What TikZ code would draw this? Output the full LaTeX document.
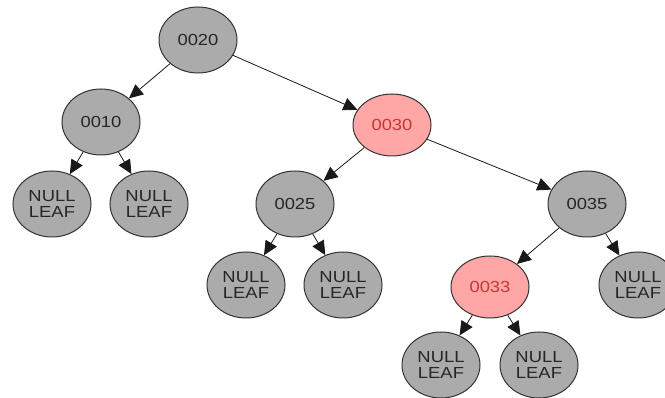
\documentclass[tikz,border=0pt]{standalone}
\usepackage{fontspec}
\setmainfont{Liberation Sans}[FakeStretch=1.15]
\usetikzlibrary{shapes.geometric,arrows.meta}
\definecolor{nodegray}{HTML}{ABABAB}
\definecolor{nodepink}{HTML}{FFA6A6}
\definecolor{pinktext}{HTML}{C83838}
\definecolor{edgegray}{HTML}{333333}
\tikzset{
  treenode/.style={ellipse, draw=edgegray, line width=1pt, fill=nodegray,
    minimum width=78pt, minimum height=66pt, inner sep=0pt,
    font=\fontsize{16}{16.5}\selectfont, text=black!85, align=center},
  rednode/.style={treenode, fill=nodepink, text=pinktext, minimum height=62pt},
  edge/.style={draw=black!90, line width=0.8pt, -{Triangle[length=14pt,width=13pt]}}
}
\begin{document}
\begin{tikzpicture}[x=1pt,y=-1pt]
\useasboundingbox (0,0) rectangle (665,398);
\clip (0,0) rectangle (665,398);
\fill[white] (0,0) rectangle (665,398);
\node[treenode] (n20) at (198,40) {0020};
\node[treenode] (n10) at (101,122) {0010};
\node[rednode] (n30) at (392,125) {0030};
\node[treenode] (l1) at (52,204) {NULL\\LEAF};
\node[treenode] (l2) at (149,204) {NULL\\LEAF};
\node[treenode] (n25) at (295,204) {0025};
\node[treenode] (n35) at (587,204) {0035};
\node[treenode] (l3) at (246,285) {NULL\\LEAF};
\node[treenode] (l4) at (343,285) {NULL\\LEAF};
\node[rednode] (n33) at (490,287) {0033};
\node[treenode] (l5) at (638,285) {NULL\\LEAF};
\node[treenode] (l6) at (441,365) {NULL\\LEAF};
\node[treenode] (l7) at (539,365) {NULL\\LEAF};
\draw[edge] (n20) -- (n10);
\draw[edge] (n20) -- (n30);
\draw[edge] (n10) -- (l1);
\draw[edge] (n10) -- (l2);
\draw[edge] (n30) -- (n25);
\draw[edge] (n30) -- (n35);
\draw[edge] (n25) -- (l3);
\draw[edge] (n25) -- (l4);
\draw[edge] (n35) -- (n33);
\draw[edge] (n35) -- (l5);
\draw[edge] (n33) -- (l6);
\draw[edge] (n33) -- (l7);
\end{tikzpicture}
\end{document}
